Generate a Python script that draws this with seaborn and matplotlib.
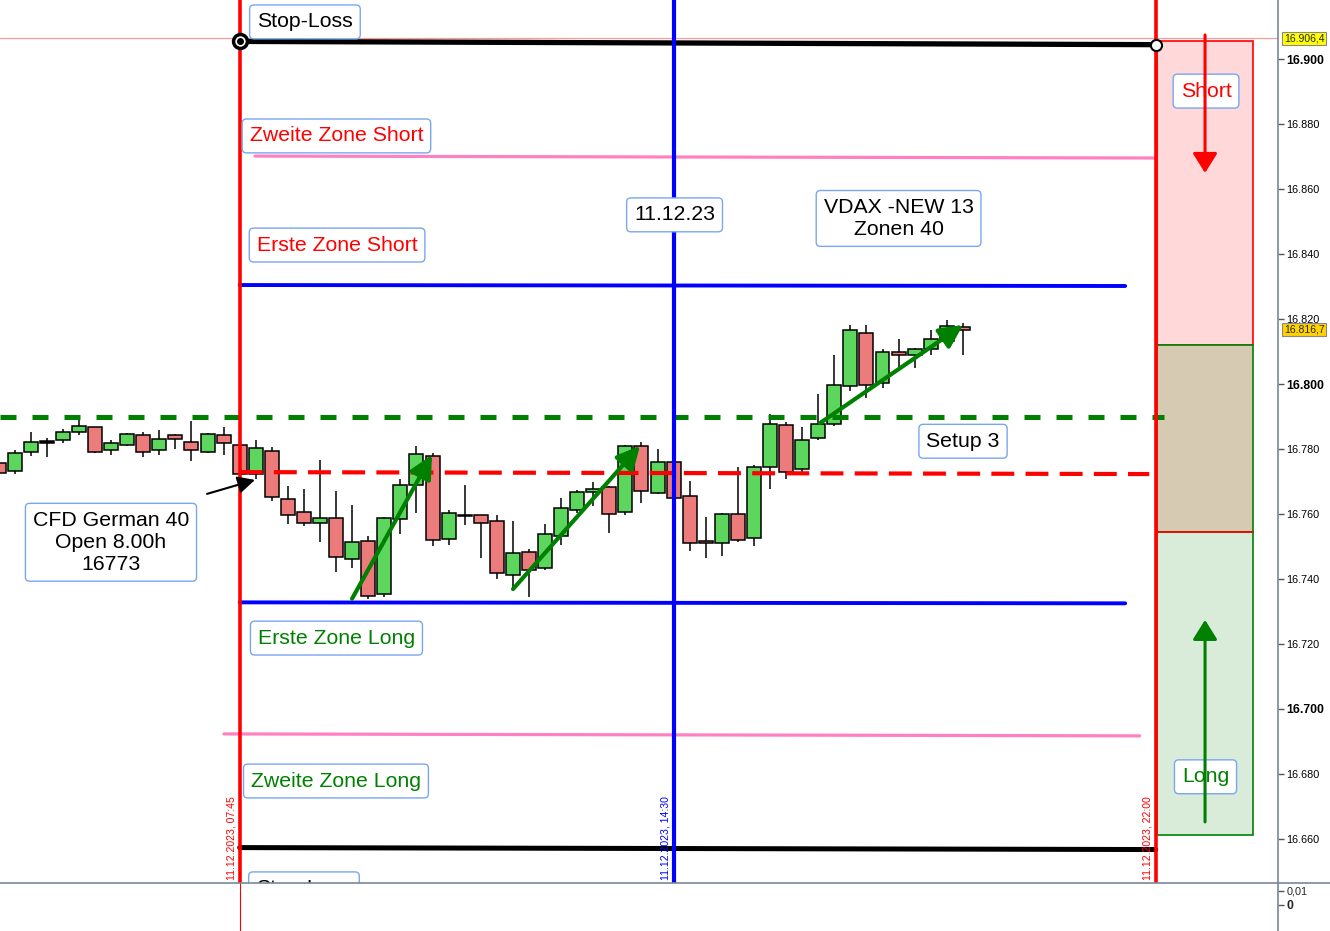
import numpy as np
import pandas as pd
import matplotlib
matplotlib.use('Agg')
import matplotlib.pyplot as plt
import matplotlib.transforms as mtransforms
from matplotlib.patches import Rectangle
from matplotlib.lines import Line2D
import seaborn as sns

# 15-minute candles of 11.12.2023 (bar 15 = 07:45, bar 42 = 14:30)
opens = [16775.8, 16773.2, 16779.0, 16782.0, 16782.7, 16785.2, 16786.7, 16779.6, 16781.2, 16784.3,
         16779.6, 16784.3, 16782.1, 16779.0, 16784.3, 16781.2, 16772.2, 16779.5, 16764.5, 16760.5,
         16757.2, 16758.7, 16746.1, 16751.6, 16735.3, 16758.4, 16768.9, 16777.8, 16752.2, 16759.4,
         16759.6, 16757.8, 16741.2, 16748.2, 16743.3, 16753.2, 16761.2, 16766.7, 16768.2, 16760.5,
         16780.9, 16766.4, 16775.9, 16765.5, 16751.6, 16751.0, 16759.9, 16752.5, 16774.4, 16787.3,
         16773.8, 16783.3, 16787.6, 16799.3, 16815.6, 16800.3, 16809.8, 16808.9, 16810.7, 16813.2,
         16817.5]
highs = [16776.5, 16779.7, 16785.3, 16783.5, 16786.3, 16789.8, 16786.9, 16782.8, 16785.0, 16785.3,
         16785.9, 16784.6, 16788.6, 16785.0, 16786.7, 16781.5, 16782.8, 16780.7, 16768.6, 16767.7,
         16776.6, 16767.0, 16762.7, 16753.3, 16759.2, 16770.7, 16780.9, 16778.7, 16761.3, 16768.9,
         16759.8, 16759.7, 16757.9, 16749.2, 16756.9, 16765.0, 16767.4, 16769.9, 16768.5, 16781.2,
         16782.1, 16780.0, 16776.2, 16770.2, 16759.0, 16760.2, 16774.5, 16775.0, 16790.7, 16788.3,
         16786.7, 16796.8, 16808.9, 16818.1, 16818.1, 16810.7, 16813.8, 16811.0, 16816.6, 16819.7,
         16818.8]
lows = [16771.5, 16772.4, 16778.0, 16777.7, 16781.8, 16784.4, 16778.8, 16778.1, 16780.9, 16777.7,
        16778.1, 16780.1, 16776.2, 16778.7, 16778.1, 16772.0, 16770.7, 16764.1, 16757.0, 16756.4,
        16751.5, 16742.0, 16743.3, 16733.8, 16734.5, 16753.8, 16760.2, 16750.3, 16750.5, 16756.6,
        16746.6, 16739.9, 16737.2, 16734.6, 16742.7, 16750.6, 16760.2, 16762.6, 16754.3, 16759.6,
        16763.3, 16766.1, 16764.5, 16748.7, 16746.4, 16747.0, 16751.5, 16750.0, 16767.8, 16770.7,
        16772.9, 16782.7, 16787.2, 16797.8, 16795.6, 16798.7, 16804.9, 16804.9, 16808.9, 16812.9,
        16808.9]
closes = [16772.6, 16778.7, 16782.1, 16782.0, 16785.2, 16787.0, 16779.0, 16781.8, 16784.6, 16779.0,
          16783.0, 16783.0, 16779.6, 16784.6, 16781.8, 16772.3, 16780.2, 16765.2, 16759.6, 16757.2,
          16758.7, 16746.7, 16751.3, 16734.7, 16758.7, 16768.9, 16778.4, 16751.9, 16760.2, 16759.4,
          16757.2, 16741.8, 16747.9, 16742.7, 16753.8, 16761.8, 16766.7, 16767.6, 16759.9, 16780.9,
          16767.0, 16775.9, 16764.9, 16751.0, 16751.0, 16759.9, 16751.9, 16774.4, 16787.6, 16772.9,
          16782.7, 16787.6, 16799.6, 16816.6, 16799.6, 16809.8, 16808.9, 16810.7, 16813.8, 16817.8,
          16816.7]

# zone levels
stop_short = 16905.5
zone2_short = 16870
zone1_short = 16830.5
green_level = 16790
open_level = 16773
zone1_long = 16732.8
zone2_long = 16692
stop_long = 16657.3
last_high = 16906.4
last_close = 16816.7

# session bars (07:45, 14:30, 22:00)
session_bars = [15, 42, 72]
session_labels = ['11.12.2023, 07:45', '11.12.2023, 14:30', '11.12.2023, 22:00']
session_colors = ['red', 'blue', 'red']

# right side boxes: short / neutral / long
box_edges = [16905.5, 16812.0, 16754.4, 16661.2]

df = pd.DataFrame({'open': opens, 'high': highs, 'low': lows, 'close': closes})
df['x'] = np.arange(len(df))

sns.set_theme(style='white')
plt.rcParams['font.family'] = ['Liberation Sans', 'DejaVu Sans']

W, H = 1330, 931
fig = plt.figure(figsize=(13.3, 9.31), dpi=100)
ax = fig.add_axes([0, 48 / H, 1278 / W, 883 / H])
ax2 = fig.add_axes([0, 0, 1278 / W, 48 / H])

xlim = (0.085, 79.61)
ax.set_xlim(*xlim)
ax.set_ylim(16646.4, 16918.25)

# candles
up = df['close'] > df['open']
down = df['close'] < df['open']
colors = np.where(up, '#5cd65c', np.where(down, '#ec7c7c', 'black'))
body_h = (df['close'] - df['open']).abs().clip(lower=0.35)
body_b = df[['open', 'close']].min(axis=1)
ax.vlines(df['x'], df['low'], df['high'], color='black', lw=1.1, zorder=2)
ax.bar(df['x'], body_h, bottom=body_b, width=0.87, color=colors,
       edgecolor='black', linewidth=1.1, zorder=2.5)

# right zone boxes
bx0, bw = 72.08, 5.98
ax.add_patch(Rectangle((bx0, box_edges[1]), bw, box_edges[0] - box_edges[1],
                       fc='#ffd9d9', ec='red', lw=1.2, zorder=1))
ax.add_patch(Rectangle((bx0, box_edges[2]), bw, box_edges[1] - box_edges[2],
                       fc='#d6cab3', ec='green', lw=1.2, zorder=1))
ax.add_patch(Rectangle((bx0, box_edges[3]), bw, box_edges[2] - box_edges[3],
                       fc='#d9ecd9', ec='green', lw=1.2, zorder=1))
ax.plot([bx0, bx0 + bw], [box_edges[2], box_edges[2]], color='red', lw=1.2, zorder=1.1)

# horizontal levels
ax.axhline(last_high, color='#ff9a9a', lw=0.9, zorder=1)
ax.plot([15, 72], [stop_short, stop_short - 1], color='black', lw=3.8, zorder=4)
ax.plot([15.95, 72], [zone2_short + 0.2, zone2_short - 0.4], color='#ff80c0', lw=2.3, zorder=4)
ax.plot([15, 70.1], [zone1_short, zone1_short - 0.3], color='blue', lw=2.8, zorder=4)
ax.plot([xlim[0], 72.5], [green_level, green_level], color='green', lw=3.6,
        dashes=(3.2, 3.2), zorder=4)
ax.plot([15, 71.6], [open_level - 0.1, open_level - 0.7], color='red', lw=3.0,
        dashes=(5.5, 2.7), zorder=4)
ax.plot([15, 70.1], [zone1_long, zone1_long - 0.3], color='blue', lw=2.8, zorder=4)
ax.plot([14.02, 71.0], [zone2_long + 0.3, zone2_long - 0.3], color='#ff80c0', lw=2.3, zorder=4)
ax.plot([15, 72], [stop_long, stop_long - 0.6], color='black', lw=3.6, zorder=4)

# session lines
for b, c in zip(session_bars, session_colors):
    ax.axvline(b, color=c, lw=3.0 if c == 'blue' else 2.6, zorder=5)
for b, s, c in zip(session_bars, session_labels, session_colors):
    ax.text(b - 0.5, 16647.4, s, rotation=90, color=c, fontsize=7.6,
            ha='center', va='bottom', zorder=6)

# stop-loss end points
ax.plot([15], [stop_short], marker='o', ms=10, mfc='white', mec='black', mew=2.5, zorder=6)
ax.plot([15], [stop_short], marker='o', ms=4, color='black', zorder=6.1)
ax.plot([72], [stop_short - 1], marker='o', ms=8, mfc='white', mec='black', mew=1.5, zorder=6)

# text boxes
def label(x, y, s, color, **kw):
    ax.text(x, y, s, color=color, fontsize=15.3, ha='center', va='center', zorder=7,
            bbox=dict(boxstyle='round,pad=0.35,rounding_size=0.2', fc='white',
                      ec='#79a6f2', lw=1.0), **kw)

label(19.06, 16911.5, 'Stop-Loss', 'black')
label(21.02, 16876.4, 'Zweite Zone Short', 'red')
label(21.06, 16842.8, 'Erste Zone Short', 'red')
label(42.06, 16852.1, '11.12.23', 'black')
label(56.0, 16851.0, 'VDAX -NEW 13\nZonen 40', 'black')
label(60.01, 16782.4, 'Setup 3', 'black')
label(6.99, 16751.3, 'CFD German 40\nOpen 8.00h\n16773', 'black')
label(21.02, 16721.8, 'Erste Zone Long', 'green')
label(20.99, 16677.8, 'Zweite Zone Long', 'green')
label(19.0, 16644.6, 'Stop-Loss', 'black', clip_on=True)
label(75.13, 16890.2, 'Short', 'red')
label(75.1, 16679.1, 'Long', 'green')

# arrows
def arrow(x0, y0, x1, y1, color, lw, hl, hw, ms):
    ax.annotate('', xy=(x1, y1), xytext=(x0, y0), zorder=8,
                arrowprops=dict(arrowstyle=f'-|>,head_length={hl},head_width={hw}',
                                color=color, lw=lw, mutation_scale=ms,
                                shrinkA=0, shrinkB=0))

arrow(21.99, 16733.9, 26.97, 16778.2, 'green', 3.0, 0.7, 0.35, 20)
arrow(32.01, 16736.9, 39.91, 16781.0, 'green', 3.0, 0.7, 0.35, 20)
arrow(51.11, 16788.0, 60.01, 16818.2, 'green', 3.0, 0.7, 0.35, 20)
arrow(12.97, 16766.2, 15.95, 16770.5, 'black', 1.5, 0.8, 0.4, 13)
arrow(75.07, 16907.5, 75.07, 16865.0, 'red', 2.2, 0.8, 0.5, 15)
arrow(75.07, 16665.2, 75.07, 16727.4, 'green', 2.2, 0.8, 0.5, 15)

# right price axis
ticks = list(range(16660, 16901, 20))
ax.yaxis.tick_right()
ax.set_yticks(ticks)
ax.set_yticklabels([f'{t / 1000:.3f}' for t in ticks])
for t, lab in zip(ticks, ax.get_yticklabels()):
    if t % 100 == 0:
        lab.set_fontweight('bold')
        lab.set_fontsize(8.8)
    else:
        lab.set_fontsize(7.8)
ax.tick_params(axis='y', right=True, length=4, width=1, color='#555555', pad=2, labelcolor='black')
ax.set_xticks([])
for side in ['left', 'top', 'bottom']:
    ax.spines[side].set_visible(False)
ax.spines['right'].set_color('#778899')
ax.spines['right'].set_linewidth(1.2)

blend = mtransforms.blended_transform_factory(ax.transAxes, ax.transData)
ax.text(1.0045, last_high, '16.906,4', transform=blend, fontsize=7.5, va='center', ha='left',
        bbox=dict(boxstyle='square,pad=0.15', fc='#ffff00', ec='#888888', lw=0.8), clip_on=False)
ax.text(1.0045, last_close, '16.816,7', transform=blend, fontsize=7.5, va='center', ha='left',
        bbox=dict(boxstyle='square,pad=0.15', fc='#ffd200', ec='#888888', lw=0.8), clip_on=False)

# lower panel
ax2.set_xlim(*xlim)
ax2.set_ylim(-0.01857, 0.01571)
ax2.yaxis.tick_right()
ax2.set_yticks([0, 0.01])
ax2.set_yticklabels(['0', '0,01'])
lab0, lab1 = ax2.get_yticklabels()
lab0.set_fontweight('bold')
lab0.set_fontsize(8.8)
lab1.set_fontsize(7.8)
ax2.tick_params(axis='y', right=True, length=4, width=1, color='#555555', pad=2)
ax2.set_xticks([])
for side in ['left', 'top', 'bottom']:
    ax2.spines[side].set_visible(False)
ax2.spines['right'].set_color('#778899')
ax2.spines['right'].set_linewidth(1.2)
ax2.axvline(15, color='red', lw=0.8)
fig.add_artist(Line2D([0, 1], [48 / H, 48 / H], color='#778899', lw=1.2))

fig.savefig('out.png', dpi=100)
